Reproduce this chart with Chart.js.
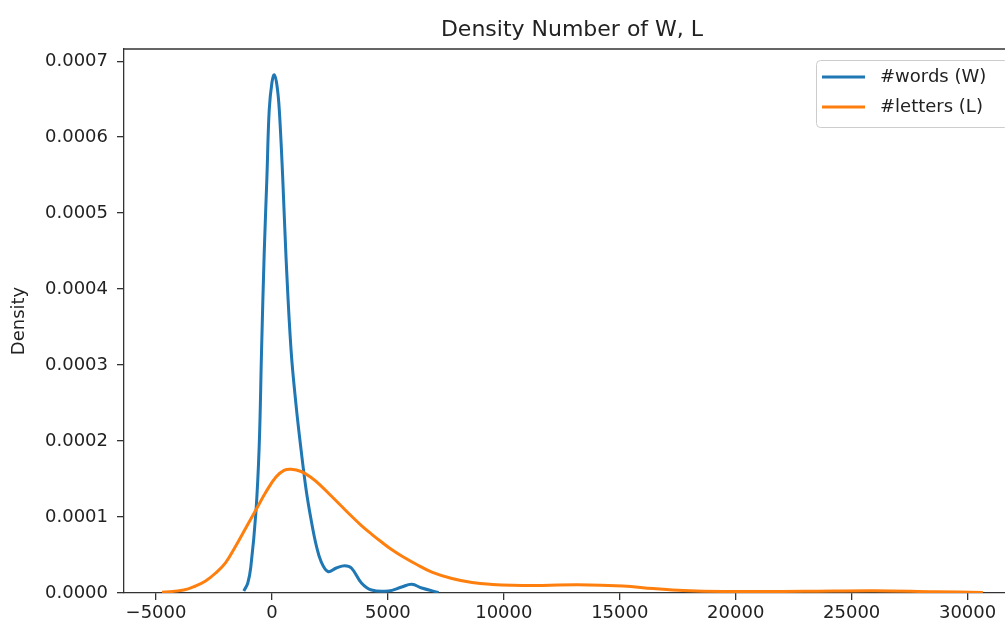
<!DOCTYPE html>
<html>
<head>
<meta charset="utf-8">
<script src="https://cdn.jsdelivr.net/npm/chart.js@4"></script>
<style>
  html, body { margin: 0; padding: 0; background: #fff; overflow: hidden; }
  #wrap { width: 1020px; height: 625px; }
</style>
</head>
<body>
<div id="wrap"><canvas id="density-chart" width="1020" height="625"></canvas></div>
<script>
// curve values (x = count, y = density)
var wordsX = [-1214, -1041, -911, -694, -551, -447, -334, -217, -117, 0, 100, 217, 317, 464, 607, 824, 1041, 1258, 1474, 1691, 1908, 2125, 2415, 2775, 3135, 3426, 3860, 4293, 5017, 5594, 6028, 6461, 7186];
var wordsY = [0.0000026, 0.0000132, 0.0000342, 0.0001053, 0.000192, 0.00032, 0.000447, 0.000547, 0.000636, 0.000672, 0.000682, 0.000668, 0.000636, 0.000547, 0.000442, 0.00032, 0.000247, 0.000188, 0.000136, 0.000096, 0.000063, 0.000041, 0.0000283, 0.0000329, 0.0000359, 0.0000329, 0.0000132, 0.0000039, 0.0000026, 0.0000079, 0.0000114, 0.0000066, 0.0000007];

var lettersX = [-4740, -3803, -3296, -2862, -2428, -1995, -1561, -1127, -694, -260, 173, 520, 824, 1258, 1691, 2125, 2559, 2992, 3426, 3860, 4293, 4727, 5160, 5594, 6245, 6895, 7762, 8630, 9497, 10364, 11665, 13183, 15134, 16435, 17736, 19471, 22940, 25976, 28578, 30659];
var lettersY = [0.0000009, 0.0000039, 0.0000092, 0.0000158, 0.0000263, 0.0000401, 0.0000618, 0.0000855, 0.0001092, 0.0001329, 0.0001526, 0.0001613, 0.0001628, 0.0001599, 0.000152, 0.0001408, 0.0001276, 0.0001145, 0.0001013, 0.0000888, 0.0000776, 0.0000671, 0.0000572, 0.0000487, 0.0000375, 0.0000276, 0.0000191, 0.0000138, 0.0000112, 0.0000101, 0.0000099, 0.0000108, 0.0000092, 0.0000059, 0.0000033, 0.000002, 0.0000022, 0.0000029, 0.0000016, 0.0000008];

var seriesLabels = ['#words (W)', '#letters (L)'];
var xTicks = [-5000, 0, 5000, 10000, 15000, 20000, 25000, 30000];
var yTicks = [0, 0.0001, 0.0002, 0.0003, 0.0004, 0.0005, 0.0006, 0.0007];

function toPoints(xs, ys) {
    return xs.map(function(x, i) { return { x: x, y: ys[i] }; });
}

var fontName = "'DejaVu Sans', sans-serif";
var axisColor = '#333333';
var textColor = '#222222';

// top spine and boxed legend like matplotlib
var framePlugin = {
    id: 'frame',
    afterDraw: function(chart) {
        var ctx = chart.ctx;
        var area = chart.chartArea;
        ctx.save();
        ctx.strokeStyle = axisColor;
        ctx.lineWidth = 1.3;
        ctx.beginPath();
        ctx.moveTo(area.left, area.top);
        ctx.lineTo(area.right, area.top);
        ctx.stroke();

        // legend box
        var bx = 816.5, by = 60.5, bw = 192, bh = 67;
        ctx.beginPath();
        ctx.roundRect(bx, by, bw, bh, 4);
        ctx.fillStyle = 'rgba(255,255,255,0.8)';
        ctx.fill();
        ctx.strokeStyle = '#cccccc';
        ctx.lineWidth = 1;
        ctx.stroke();

        ctx.font = '18px ' + fontName;
        ctx.textBaseline = 'middle';
        ctx.textAlign = 'left';
        chart.data.datasets.forEach(function(ds, i) {
            var y = 77 + i * 30;
            ctx.strokeStyle = ds.borderColor;
            ctx.lineWidth = 3;
            ctx.beginPath();
            ctx.moveTo(822, y);
            ctx.lineTo(865, y);
            ctx.stroke();
            ctx.fillStyle = textColor;
            ctx.fillText(ds.label, 880, y);
        });
        ctx.restore();
    }
};

var ctx = document.getElementById('density-chart').getContext('2d');

var densityChart = new Chart(ctx, {
    type: 'line',
    data: {
        datasets: [{
            label: seriesLabels[0],
            data: toPoints(wordsX, wordsY),
            borderColor: '#1f77b4',
            borderWidth: 3,
            pointRadius: 0,
            tension: 0.4,
            fill: false,
            order: 1
        }, {
            label: seriesLabels[1],
            data: toPoints(lettersX, lettersY),
            borderColor: '#ff7f0e',
            borderWidth: 3,
            pointRadius: 0,
            tension: 0.4,
            fill: false,
            order: 0
        }]
    },
    options: {
        responsive: false,
        animation: false,
        layout: { padding: 0 },
        plugins: {
            legend: { display: false },
            tooltip: { enabled: false },
            title: {
                display: true,
                text: 'Density Number of W, L',
                fullSize: false,
                color: textColor,
                font: { family: fontName, size: 22, weight: 'normal' },
                padding: { top: 17, bottom: 5.6 }
            }
        },
        scales: {
            x: {
                type: 'linear',
                min: -6380,
                max: 32260,
                afterFit: function(scale) { scale.height = 32; },
                afterBuildTicks: function(scale) {
                    scale.ticks = xTicks.map(function(v) { return { value: v }; });
                },
                ticks: {
                    color: textColor,
                    font: { family: fontName, size: 18 },
                    padding: 3,
                    maxRotation: 0,
                    autoSkip: false,
                    callback: function(v) { return v < 0 ? '\u2212' + Math.abs(v) : String(v); }
                },
                grid: {
                    drawOnChartArea: false,
                    drawTicks: true,
                    tickLength: 7,
                    color: axisColor,
                    lineWidth: 1.3
                },
                border: { display: true, color: axisColor, width: 1.3 }
            },
            y: {
                min: 0,
                max: 0.000716,
                afterFit: function(scale) { scale.width = 124; },
                afterBuildTicks: function(scale) {
                    scale.ticks = yTicks.map(function(v) { return { value: v }; });
                },
                title: {
                    display: true,
                    text: 'Density',
                    color: textColor,
                    font: { family: fontName, size: 18 },
                    padding: { top: 9, bottom: 0 }
                },
                ticks: {
                    color: textColor,
                    font: { family: fontName, size: 18 },
                    padding: 9,
                    autoSkip: false,
                    callback: function(v) { return v.toFixed(4); }
                },
                grid: {
                    drawOnChartArea: false,
                    drawTicks: true,
                    tickLength: 7,
                    color: axisColor,
                    lineWidth: 1.3
                },
                border: { display: true, color: axisColor, width: 1.3 }
            }
        }
    },
    plugins: [framePlugin]
});
</script>
</body>
</html>
